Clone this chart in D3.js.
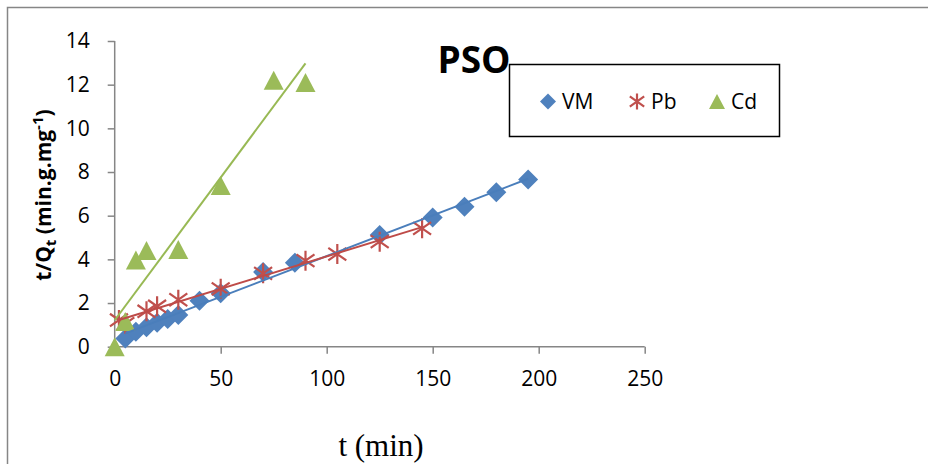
<!DOCTYPE html>
<html>
<head>
<meta charset="utf-8">
<script src="https://cdn.jsdelivr.net/npm/d3@7"></script>
<style>
  html, body { margin: 0; padding: 0; background: #fff; }
  svg { display: block; }
</style>
</head>
<body>
<svg id="chart" width="928" height="464"></svg>
<script>
// Pseudo-second-order kinetics: t/Qt against contact time
const vmTime  = [5, 10, 15, 20, 25, 30, 40, 50, 70, 85, 125, 150, 165, 180, 195];
const vmValue = [0.38, 0.69, 0.89, 1.10, 1.27, 1.45, 2.10, 2.45, 3.42, 3.85, 5.11, 5.92, 6.41, 7.07, 7.66];

const pbTime  = [2, 5, 15, 20, 30, 50, 70, 90, 105, 125, 145];
const pbValue = [1.22, 1.05, 1.62, 1.85, 2.15, 2.65, 3.36, 3.94, 4.24, 4.81, 5.42];

const cdTime  = [0, 5, 10, 15, 30, 50, 75, 90];
const cdValue = [0.00, 1.15, 3.97, 4.40, 4.45, 7.38, 12.20, 12.10];

const xTicks = [0, 50, 100, 150, 200, 250];
const yTicks = [0, 2, 4, 6, 8, 10, 12, 14];

const seriesNames = ["VM", "Pb", "Cd"];
const seriesColors = { VM: "#4F81BD", Pb: "#C0504D", Cd: "#9BBB59" };
const lineColors   = { VM: "#4A7EBB", Pb: "#BE4B48", Cd: "#98B954" };

const series = [
  { name: "VM", t: vmTime, v: vmValue, shape: "diamond" },
  { name: "Pb", t: pbTime, v: pbValue, shape: "star" },
  { name: "Cd", t: cdTime, v: cdValue, shape: "triangle" }
];

const svg = d3.select("#chart");
const fontSans = "'Open Sans', 'Liberation Sans', sans-serif";

// Outer chart frame
svg.append("rect")
  .attr("x", 7.5).attr("y", 7.5)
  .attr("width", 940).attr("height", 470)
  .attr("fill", "#fff")
  .attr("stroke", "#868686")
  .attr("stroke-width", 1.5);

const x = d3.scaleLinear().domain([0, 250]).range([114.7, 644.7]);
const y = d3.scaleLinear().domain([0, 14]).range([346.7, 41]);

// Axes
const xAxis = svg.append("g")
  .attr("transform", `translate(0,${y(0)})`)
  .call(d3.axisBottom(x).tickValues(xTicks).tickSize(7).tickPadding(17).tickFormat(d3.format("d")));
const yAxis = svg.append("g")
  .attr("transform", `translate(${x(0)},0)`)
  .call(d3.axisLeft(y).tickValues(yTicks).tickSize(7).tickPadding(18).tickFormat(d3.format("d")));

[xAxis, yAxis].forEach(g => {
  g.select(".domain").attr("stroke", "#868686").attr("stroke-width", 1.5);
  g.selectAll(".tick line").attr("stroke", "#868686").attr("stroke-width", 1.5);
  g.selectAll(".tick text")
    .attr("fill", "#000")
    .style("font-family", fontSans)
    .style("font-size", "21px");
});
xAxis.select(".domain").attr("d", `M${x(0)},0H${x(250)}`);
yAxis.select(".domain").attr("d", `M0,${y(14)}V${y(0)}`);

// Linear least-squares trend line over a series' time range
function trend(t, v) {
  const n = t.length;
  const mt = d3.mean(t), mv = d3.mean(v);
  let sxy = 0, sxx = 0;
  for (let i = 0; i < n; i++) {
    sxy += (t[i] - mt) * (v[i] - mv);
    sxx += (t[i] - mt) * (t[i] - mt);
  }
  const b = sxy / sxx, a = mv - b * mt;
  const t0 = d3.min(t), t1 = d3.max(t);
  return [[t0, a + b * t0], [t1, a + b * t1]];
}

const lineGen = d3.line().x(d => x(d[0])).y(d => y(d[1]));

// Marker shapes
function markerPath(shape, s) {
  if (shape === "diamond") {
    return `M0,${-s}L${s},0L0,${s}L${-s},0Z`;
  }
  if (shape === "triangle") {
    const h = s * 1.9;
    return `M0,${-h / 2}L${s},${h / 2}L${-s},${h / 2}Z`;
  }
  // star: vertical bar crossed by an X
  const d = s * 0.9;
  return `M0,${-s}V${s}M${-d},${-d * 0.7}L${d},${d * 0.7}M${-d},${d * 0.7}L${d},${-d * 0.7}`;
}

function drawMarker(g, shape, color, s) {
  if (shape === "star") {
    g.append("path").attr("d", markerPath(shape, s))
      .attr("fill", "none").attr("stroke", color).attr("stroke-width", 2.2);
  } else {
    g.append("path").attr("d", markerPath(shape, s))
      .attr("fill", color).attr("stroke", "none");
  }
}

// Draw each series' markers, then the trend lines on top
series.forEach(sr => {
  const color = seriesColors[sr.name];
  const g = svg.append("g").attr("class", "series-" + sr.name);
  sr.t.forEach((t, i) => {
    const m = g.append("g").attr("transform", `translate(${x(t)},${y(sr.v[i])})`);
    drawMarker(m, sr.shape, color, 10);
  });
});
series.forEach(sr => {
  svg.append("path")
    .datum(trend(sr.t, sr.v))
    .attr("d", lineGen)
    .attr("fill", "none")
    .attr("stroke", lineColors[sr.name])
    .attr("stroke-width", 2);
});

// Axis titles
const yTitle = svg.append("text")
  .attr("transform", `translate(51,195) rotate(-90)`)
  .attr("text-anchor", "middle")
  .style("font-family", fontSans)
  .style("font-size", "21px")
  .style("font-weight", "bold");
yTitle.append("tspan").text("t/Q");
yTitle.append("tspan").attr("dy", 5).style("font-size", "15px").text("t");
yTitle.append("tspan").attr("dy", -5).text(" (min.g.mg");
yTitle.append("tspan").attr("dy", -8).style("font-size", "15px").text("-1");
yTitle.append("tspan").attr("dy", 8).text(")");

svg.append("text")
  .attr("x", 381).attr("y", 456)
  .attr("text-anchor", "middle")
  .style("font-family", "'Liberation Serif', 'Times New Roman', serif")
  .style("font-size", "31px")
  .text("t (min)");

// Legend
const legend = svg.append("g");
legend.append("rect")
  .attr("x", 509.5).attr("y", 64.5)
  .attr("width", 270).attr("height", 72)
  .attr("fill", "#fff")
  .attr("stroke", "#000")
  .attr("stroke-width", 1.5);
const legendX = [548, 637, 717];
series.forEach((sr, i) => {
  const m = legend.append("g").attr("transform", `translate(${legendX[i]},101.5)`);
  drawMarker(m, sr.shape, seriesColors[sr.name], 8);
  legend.append("text")
    .attr("x", legendX[i] + 14).attr("y", 109)
    .style("font-family", fontSans)
    .style("font-size", "21px")
    .text(seriesNames[i]);
});

// Chart title
svg.append("text")
  .attr("x", 474).attr("y", 73)
  .attr("text-anchor", "middle")
  .style("font-family", fontSans)
  .style("font-size", "37px")
  .style("font-weight", "bold")
  .text("PSO");
</script>
</body>
</html>
